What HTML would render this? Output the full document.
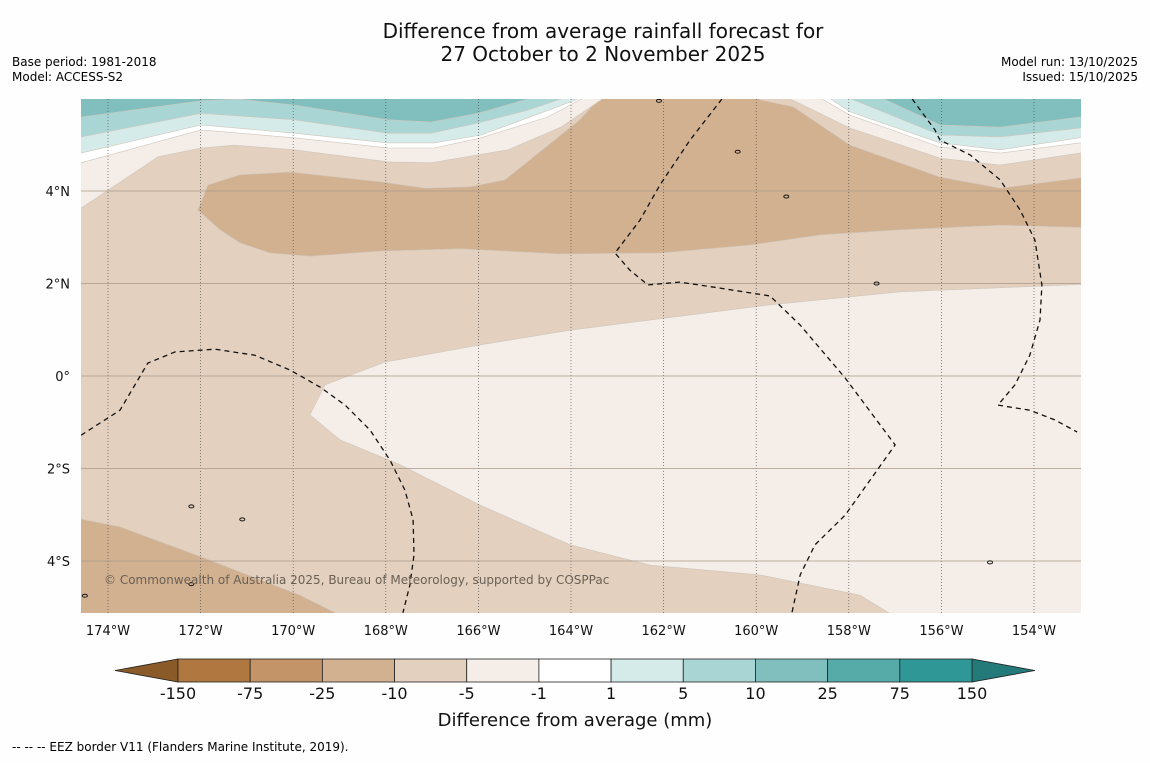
<!DOCTYPE html>
<html><head><meta charset="utf-8"><style>
body{margin:0;background:#fefefe;font-family:"Liberation Sans","DejaVu Sans",sans-serif;}
svg text{font-family:"DejaVu Sans","Liberation Sans",sans-serif;}
</style></head><body>
<svg id="chart" width="1150" height="758" xmlns="http://www.w3.org/2000/svg">
<rect width="1150" height="758" fill="#fefefe"/>
<text x="603" y="38" font-size="20" text-anchor="middle" fill="#111">Difference from average rainfall forecast for</text>
<text x="603" y="61" font-size="20" text-anchor="middle" fill="#111">27 October to 2 November 2025</text>
<text x="12" y="66" font-size="12">Base period: 1981-2018</text>
<text x="12" y="81" font-size="12">Model: ACCESS-S2</text>
<text x="1138" y="66" font-size="12" text-anchor="end">Model run: 13/10/2025</text>
<text x="1138" y="81" font-size="12" text-anchor="end">Issued: 15/10/2025</text>
<defs><clipPath id="mapclip"><rect x="81" y="99" width="1000" height="514"/></clipPath></defs>
<g id="map" clip-path="url(#mapclip)"></g>
<g id="axes"></g>
<g id="cbar"></g>
<text x="575" y="726" font-size="18" text-anchor="middle" fill="#111">Difference from average (mm)</text>
<text x="12" y="751" font-size="12">--  --  -- EEZ border V11 (Flanders Marine Institute, 2019).</text>
</svg>
<script>
const lonTicks=[-174,-172,-170,-168,-166,-164,-162,-160,-158,-156,-154];
const latTicks=[4,2,0,-2,-4];
const latLabels=["4°N","2°N","0°","2°S","4°S"];
const cbLevels=["-150","-75","-25","-10","-5","-1","1","5","10","25","75","150"];
const cbColors=["#b07840","#c39468","#d2b191","#e3d0bf","#f4ede8","#ffffff","#d5ebe9","#a9d5d4","#80bfbe","#56aaa8","#2f9795"];
// contour regions [lon,lat]
const regionVeryLightCenter=[[-169.64,-0.84],[-169.31,-0.19],[-168.02,0.30],[-165.97,0.67],[-164.02,0.99],[-159.7,1.54],[-156.89,1.82],[-152.5,2.0],[-152.5,-5.6],[-156.35,-5.6],[-157.76,-4.74],[-159.92,-4.30],[-162.29,-4.09],[-164.02,-3.65],[-165.97,-2.79],[-167.69,-1.92],[-168.99,-1.38]];
const regionDarkNorth=[[-172.06,3.59],[-171.84,4.13],[-171.15,4.35],[-170.07,4.41],[-168.13,4.2],[-167.15,4.06],[-166.18,4.09],[-165.43,4.24],[-163.81,5.54],[-162.94,6.5],[-159.92,6.5],[-159.92,5.97],[-159.2,5.82],[-157.97,4.99],[-156.03,4.30],[-154.73,4.06],[-153.01,4.28],[-152.5,4.3],[-152.5,3.2],[-154.73,3.26],[-156.89,3.16],[-158.62,3.05],[-160.13,2.83],[-162.08,2.66],[-164.24,2.64],[-166.4,2.75],[-168.13,2.70],[-169.64,2.59],[-170.5,2.66],[-171.15,2.88],[-171.58,3.16]];
const regionDarkSW=[[-175,-3.01],[-173.74,-3.26],[-171.99,-3.91],[-169.85,-4.74],[-168.13,-5.6],[-175,-5.6]];
const topLeftVeryLight=[[-175,6.5],[-163.35,6.5],[-163.35,5.97],[-164.22,5.38],[-165.36,4.89],[-166.01,4.78],[-167.02,4.61],[-167.95,4.63],[-169.98,4.89],[-171.28,4.99],[-171.99,4.93],[-172.92,4.74],[-174,4.02],[-174.58,3.63],[-175,3.63]];
const topRightVeryLight=[[-159.49,6.5],[-152.5,6.5],[-152.5,4.85],[-153.01,4.82],[-154.73,4.56],[-156.03,4.71],[-157.97,5.36],[-159.49,6.1]];
const topLeftWhite=[[-175,6.5],[-163.78,6.5],[-163.78,5.99],[-164.5,5.6],[-165.94,5.15],[-166.96,4.93],[-167.95,4.93],[-169.98,5.15],[-171.99,5.32],[-174.58,4.61],[-175,4.61]];
const topRightWhite=[[-158.77,6.5],[-152.5,6.5],[-152.5,5.06],[-153.01,5.04],[-154.73,4.82],[-156.03,4.95],[-157.97,5.64],[-158.77,6.1]];
const topLeftPale=[[-175,6.5],[-163.85,6.5],[-163.85,5.99],[-164.37,5.79],[-165.94,5.21],[-166.96,5.04],[-167.95,5.04],[-169.98,5.25],[-171.99,5.43],[-174.58,4.82],[-175,4.82]];
const topRightPale=[[-158.56,6.5],[-152.5,6.5],[-152.5,5.17],[-153.01,5.15],[-154.73,4.89],[-156.03,5.04],[-157.97,5.71],[-158.56,6.1]];
const topLeftMid=[[-175,6.5],[-164.22,6.5],[-164.22,5.99],[-164.93,5.75],[-166.01,5.47],[-167.02,5.25],[-167.95,5.25],[-169.98,5.54],[-171.99,5.68],[-174.58,5.17],[-175,5.17]];
const topRightMid=[[-157.97,6.5],[-152.5,6.5],[-152.5,5.38],[-153.01,5.36],[-154.73,5.17],[-156.03,5.21],[-157.97,6.0]];
const topLeftTeal=[[-175,6.5],[-164.93,6.5],[-164.93,5.99],[-166.01,5.68],[-167.02,5.49],[-167.95,5.54],[-169.98,5.86],[-171.19,5.99],[-171.99,5.95],[-174.58,5.6],[-175,5.6]];
const topRightTeal=[[-157.48,6.5],[-152.5,6.5],[-152.5,5.62],[-153.01,5.6],[-154.73,5.38],[-156.03,5.43],[-157.48,6.1]];
const eez1=[[-174.58,-1.28],[-173.74,-0.74],[-173.14,0.28],[-172.55,0.52],[-171.69,0.58],[-170.83,0.45],[-170.07,0.13],[-169.42,-0.24],[-168.88,-0.63],[-168.34,-1.17],[-167.91,-1.82],[-167.59,-2.46],[-167.41,-3.11],[-167.39,-3.87],[-167.48,-4.52],[-167.63,-5.12]];
const eez2=[[-160.74,5.99],[-161.43,5.10],[-162.08,4.13],[-162.51,3.37],[-163.05,2.66],[-162.73,2.29],[-162.34,1.97],[-161.65,2.03],[-160.78,1.90],[-159.7,1.73],[-159.05,1.10],[-158.08,-0.04],[-157.0,-1.49],[-157.54,-2.25],[-158.08,-3.01],[-158.73,-3.65],[-159.05,-4.30],[-159.23,-5.12]];
const eez3=[[-156.63,5.99],[-156.14,5.32],[-156.03,5.10],[-155.38,4.78],[-154.73,4.24],[-154.3,3.59],[-153.98,2.94],[-153.83,1.97],[-153.87,1.21],[-154.09,0.45],[-154.41,-0.19],[-154.78,-0.63],[-154.09,-0.74],[-153.55,-0.95],[-153.07,-1.21]];
const islands=[[-172.2,-2.82],[-171.1,-3.1],[-159.35,3.88],[-157.4,2.0],[-160.4,4.85],[-162.1,5.95],[-154.95,-4.03],[-172.2,-4.5],[-174.5,-4.75]];

const NS='http://www.w3.org/2000/svg';
const X=lon=>108+(lon+174)*46.3;
const Y=lat=>376-lat*46.25;
function mk(tag,attrs,parent){const e=document.createElementNS(NS,tag);for(const k in attrs)e.setAttribute(k,attrs[k]);parent.appendChild(e);return e;}
const map=document.getElementById('map'),axes=document.getElementById('axes'),cb=document.getElementById('cbar');
const bg=mk('rect',{x:81,y:99,width:1000,height:514,fill:'#e3d0bf'},map);


function poly(pts,fill,name){const p=mk('polygon',{points:pts.map(q=>X(q[0]).toFixed(1)+','+Y(q[1]).toFixed(1)).join(' '),fill:fill,stroke:'#cfc6bc','stroke-width':0.6},map);

}
poly(regionVeryLightCenter,'#f4ede8','region-minus5-minus1-center');
poly(regionDarkNorth,'#d2b191','region-minus25-minus10-north');
poly(regionDarkSW,'#d2b191','region-minus25-minus10-southwest');
poly(topLeftVeryLight,'#f4ede8','region-minus5-minus1-north-west');
poly(topRightVeryLight,'#f4ede8','region-minus5-minus1-north-east');
poly(topLeftWhite,'#ffffff','region-near-zero-west');
poly(topRightWhite,'#ffffff','region-near-zero-east');
poly(topLeftPale,'#d5ebe9','region-1-5-west');
poly(topRightPale,'#d5ebe9','region-1-5-east');
poly(topLeftMid,'#a9d5d4','region-5-10-west');
poly(topRightMid,'#a9d5d4','region-5-10-east');
poly(topLeftTeal,'#80bfbe','region-10-25-west');
poly(topRightTeal,'#80bfbe','region-10-25-east');
lonTicks.forEach(l=>{const g=mk('line',{x1:X(l),x2:X(l),y1:99,y2:613,stroke:'#555','stroke-width':0.7,'stroke-dasharray':'1,2'},map);

});
latTicks.forEach(l=>{const g=mk('line',{x1:81,x2:1081,y1:Y(l),y2:Y(l),stroke:'#a89a8a','stroke-width':0.8},map);

});
[eez1,eez2,eez3].forEach((e,i)=>{const p=mk('polyline',{points:e.map(q=>X(q[0]).toFixed(1)+','+Y(q[1]).toFixed(1)).join(' '),fill:'none',stroke:'#111','stroke-width':1.3,'stroke-dasharray':'5,4'},map);

});
islands.forEach(q=>{const c=mk('ellipse',{cx:X(q[0]),cy:Y(q[1]),rx:2.5,ry:1.5,fill:'none',stroke:'#111','stroke-width':1},map);

});
const cr=mk('text',{x:104,y:584,'font-size':12,fill:'#6a6055'},map);cr.textContent='© Commonwealth of Australia 2025, Bureau of Meteorology, supported by COSPPac';


lonTicks.forEach(l=>{const t=mk('text',{x:X(l),y:635,'font-size':13,'text-anchor':'middle',fill:'#111'},axes);t.textContent=Math.abs(l)+'°W';

});
latTicks.forEach((l,i)=>{const t=mk('text',{x:70,y:Y(l)+5,'font-size':13,'text-anchor':'end',fill:'#111'},axes);t.textContent=latLabels[i];

});
const cx0=178,cx1=972,cy=659,ch=23,n=cbColors.length,w=(cx1-cx0)/n;
const lt=mk('polygon',{points:`115,${cy+ch/2} ${cx0},${cy} ${cx0},${cy+ch}`,fill:'#8a5a28',stroke:'#222','stroke-width':0.8},cb);


const rt=mk('polygon',{points:`1035,${cy+ch/2} ${cx1},${cy} ${cx1},${cy+ch}`,fill:'#237a78',stroke:'#222','stroke-width':0.8},cb);


cbColors.forEach((c,i)=>{const r=mk('rect',{x:cx0+i*w,y:cy,width:w,height:ch,fill:c,stroke:'#222','stroke-width':0.8},cb);

});
cbLevels.forEach((s,i)=>{const t=mk('text',{x:cx0+i*w,y:699,'font-size':16,'text-anchor':'middle',fill:'#111'},cb);t.textContent=s;

});
</script>
</body></html>
